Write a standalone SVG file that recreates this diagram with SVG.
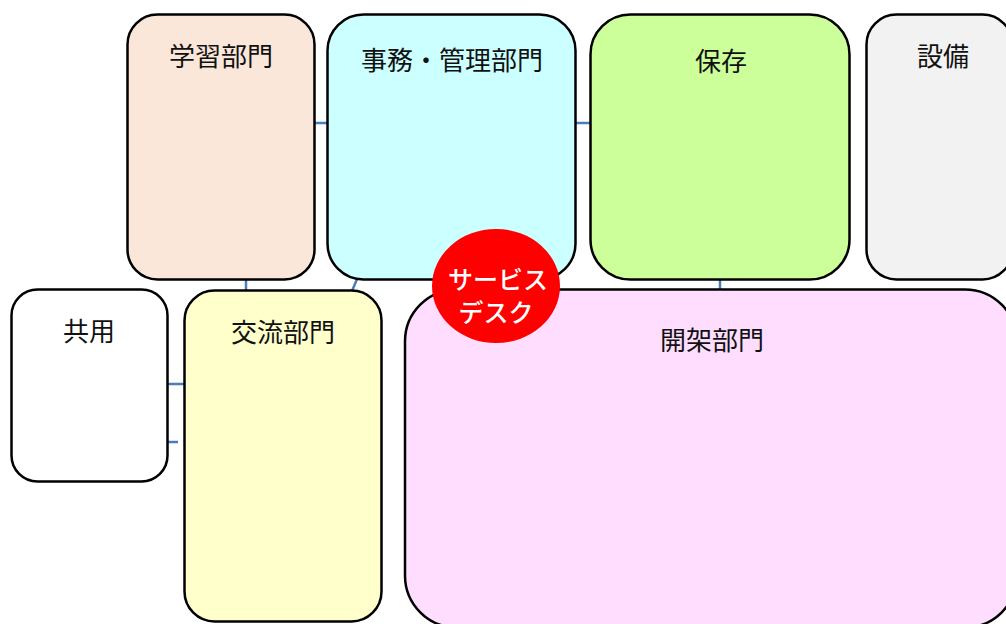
<svg xmlns="http://www.w3.org/2000/svg" width="1006" height="624" viewBox="0 0 1006 624">
<style>
.box{stroke:#000;stroke-width:2.5}
.lbl{font-family:"Noto Sans CJK JP","Noto Sans",sans-serif;font-size:26px;fill:#111;text-anchor:middle}
.sd{font-family:"Noto Sans CJK JP","Noto Sans",sans-serif;font-size:25px;fill:#fff;text-anchor:middle;font-weight:500}
.conn line{stroke:#4A7EBB;stroke-width:2.5}
</style>
<rect width="1006" height="624" fill="#fff"/>
<g id="conn" class="conn">
<line x1="315" y1="123" x2="328" y2="123"/>
<line x1="576" y1="123" x2="591" y2="123"/>
<line x1="246" y1="272" x2="246" y2="291"/>
<line x1="360" y1="272" x2="352" y2="291"/>
<line x1="720" y1="272" x2="720" y2="291"/>
<line x1="168" y1="384" x2="185" y2="384"/>
<line x1="168" y1="442" x2="178" y2="442"/>
</g>
<g id="gakushu">
<rect class="box" x="127.5" y="14.5" width="187" height="265" rx="30" fill="#FBE7D9"/>
<text class="lbl" x="221" y="66">学習部門</text>
</g>
<g id="jimu">
<rect class="box" x="327.5" y="14.5" width="248" height="265" rx="36" fill="#CCFFFF"/>
<text class="lbl" x="452" y="70">事務・管理部門</text>
</g>
<g id="hozon">
<rect class="box" x="590.5" y="14.5" width="259" height="265" rx="40" fill="#CCFF99"/>
<text class="lbl" x="721" y="71">保存</text>
</g>
<g id="setsubi">
<rect class="box" x="866.5" y="14.5" width="146" height="265" rx="30" fill="#F2F2F2"/>
<text class="lbl" x="943" y="66">設備</text>
</g>
<g id="kyoyo">
<rect class="box" x="11.5" y="289.5" width="156" height="192" rx="26" fill="#FFFFFF"/>
<text class="lbl" x="89" y="341">共用</text>
</g>
<g id="koryu">
<rect class="box" x="184.5" y="290.5" width="197" height="331" rx="30" fill="#FFFFCC"/>
<text class="lbl" x="283" y="342">交流部門</text>
</g>
<g id="kaika">
<rect class="box" x="405" y="289.5" width="612" height="338" rx="52" fill="#FEDDFE"/>
<text class="lbl" x="712" y="350">開架部門</text>
</g>
<g id="service">
<ellipse cx="496" cy="286" rx="64" ry="57" fill="#FF0000"/>
<text class="sd" x="498" y="289">サービス</text>
<text class="sd" x="496" y="322">デスク</text>
</g>
</svg>
